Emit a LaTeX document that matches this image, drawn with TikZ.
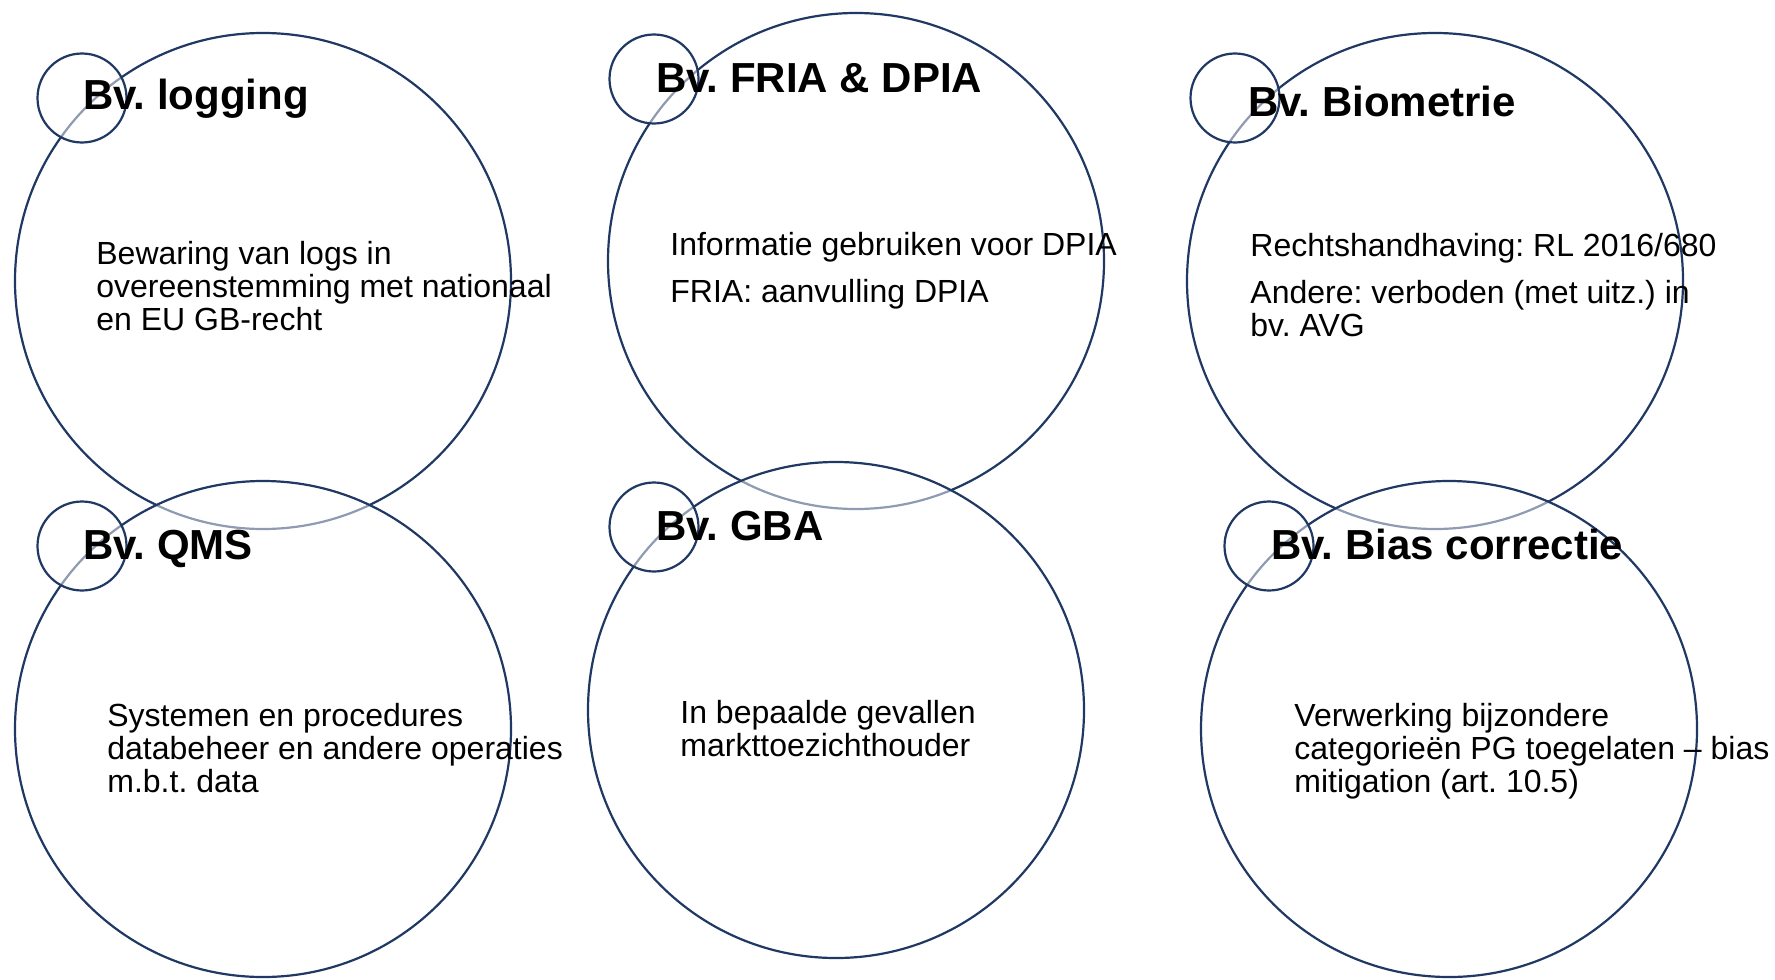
\documentclass[tikz,border=0pt]{standalone}
\usepackage{fontspec}
\setmainfont{Liberation Sans}
\usepackage{tikz}
\definecolor{navy}{RGB}{31,56,100}

\begin{document}
\begin{tikzpicture}[x=0.5pt,y=-0.5pt,
	ring/.style={draw=navy,line width=1.1pt,circle,fill=white,fill opacity=0.5,inner sep=0},
	big/.style={ring,minimum size=248pt},
	small/.style={ring,minimum size=44.5pt},
	head/.style={anchor=base west,inner sep=0,font=\fontsize{21}{25}\selectfont\bfseries\frenchspacing},
	body/.style={anchor=base west,inner sep=0,align=left,font=\fontsize{16}{16.5}\selectfont\frenchspacing}]
		\useasboundingbox (0,0) rectangle (1775,979);
		
		\node[big](1)at(263,281) {};
		\node[big](2)at(856,261) {};
		\node[big](3)at(1435,281) {};
		\node[big](4)at(263,729) {};
		\node[big](5)at(836,710) {};
		\node[big](6)at(1449,729) {};
		
		\node[small](s1)at(82,98) {};
		\node[small](s2)at(654,79) {};
		\node[small](s3)at(1235,98) {};
		\node[small](s4)at(82,546) {};
		\node[small](s5)at(654,527) {};
		\node[small](s6)at(1269,546) {};
		
		\node[head](t1)at(83,110) {Bv. logging};
		\node[head](t2)at(656,92) {Bv. FRIA \& DPIA};
		\node[head](t3)at(1248,117) {Bv. Biometrie};
		\node[head](t4)at(83,559) {Bv. QMS};
		\node[head](t5)at(656,540) {Bv. GBA};
		\node[head](t6)at(1271,559) {Bv. Bias correctie};
		
		% base = baseline of the last line
		\node[body](b1)at(96,330) {Bewaring van logs in\\overeenstemming met nationaal\\en EU GB-recht};
		\node[body](b2)at(670,302) {Informatie gebruiken voor DPIA\\[7pt]FRIA: aanvulling DPIA};
		\node[body](b3)at(1250,336) {Rechtshandhaving: RL 2016/680\\[7pt]Andere: verboden (met uitz.) in\\bv. AVG};
		\node[body](b4)at(107,792) {Systemen en procedures\\databeheer en andere operaties\\m.b.t. data};
		\node[body](b5)at(680,756) {In bepaalde gevallen\\markttoezichthouder};
		\node[body](b6)at(1294,792) {Verwerking bijzondere\\categorieën PG toegelaten – bias\\mitigation (art. 10.5)};
	\end{tikzpicture}
\end{document}
